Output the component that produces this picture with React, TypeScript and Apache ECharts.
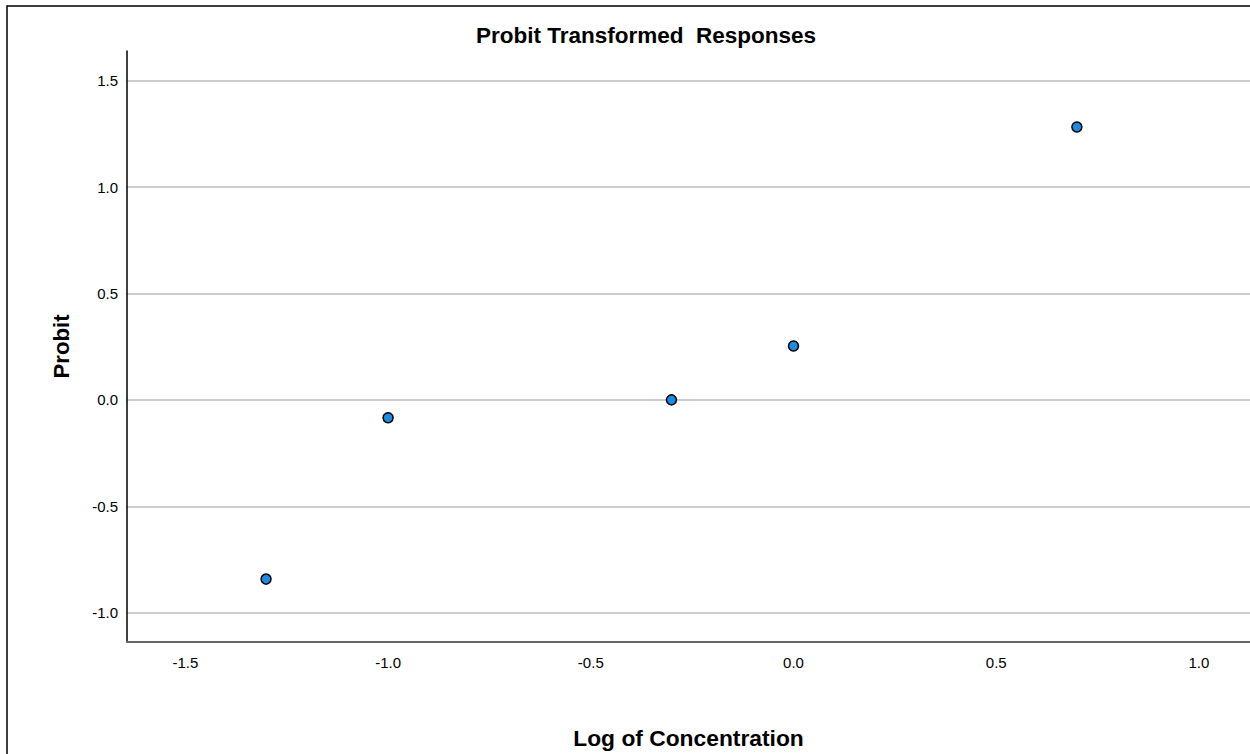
import React, { useEffect, useRef } from "react";
import * as echarts from "echarts";

const logConcentration = [-1.301, -1.0, -0.301, 0.0, 0.699];
const probitValues = [-0.842, -0.084, 0.0, 0.253, 1.282];

const titleText = "Probit Transformed  Responses";
const xName = "Log of Concentration";
const yName = "Probit";

export default function App() {
  const ref = useRef<HTMLDivElement>(null);
  useEffect(() => {
    if (!ref.current) return;
    const chart = echarts.init(ref.current, undefined, { renderer: "svg" });
    const font = "'Liberation Sans', Arial, sans-serif";
    const fmt = (v: number) => {
      const r = Math.round(v * 2) / 2;
      if (Math.abs(r - v) > 1e-6) return "";
      return r.toFixed(1);
    };
    chart.setOption({
      animation: false,
      backgroundColor: "#ffffff",
      title: {
        text: titleText,
        left: 476,
        top: 24,
        padding: 0,
        textStyle: { fontFamily: font, fontSize: 22.5, fontWeight: "bold", color: "#000" },
      },
      graphic: [
        {
          type: "rect",
          shape: { x: 7, y: 6, width: 1400, height: 900 },
          style: { fill: "none", stroke: "#000", lineWidth: 1.5 },
          silent: true,
        },
      ],
      grid: { left: 127, top: 51, right: 0, bottom: 109, containLabel: false },
      xAxis: {
        type: "value",
        min: -1.644,
        max: 1.126,
        splitNumber: 5,
        name: xName,
        nameLocation: "middle",
        nameGap: 84,
        nameTextStyle: { fontFamily: font, fontSize: 22.8, fontWeight: "bold", color: "#000" },
        axisLine: { show: true, onZero: false, lineStyle: { color: "#666", width: 2 } },
        axisTick: { show: false },
        splitLine: { show: false },
        axisLabel: {
          fontFamily: font,
          fontSize: 15,
          color: "#000",
          margin: 13,
          showMinLabel: false,
          showMaxLabel: false,
          formatter: fmt,
        },
      },
      yAxis: {
        type: "value",
        min: -1.1375,
        max: 1.639,
        splitNumber: 5,
        name: yName,
        nameLocation: "middle",
        nameGap: 55,
        nameTextStyle: { fontFamily: font, fontSize: 22.2, fontWeight: "bold", color: "#000" },
        axisLine: { show: true, onZero: false, lineStyle: { color: "#000", width: 1.5 } },
        axisTick: { show: false },
        splitLine: {
          show: true,
          showMinLine: false,
          showMaxLine: false,
          lineStyle: { color: "#bbbbbb", width: 1.5 },
        },
        axisLabel: {
          fontFamily: font,
          fontSize: 15,
          color: "#000",
          margin: 9,
          showMinLabel: false,
          showMaxLabel: false,
          formatter: fmt,
        },
      },
      series: [
        {
          type: "scatter",
          data: logConcentration.map((x, i) => [x, probitValues[i]]),
          symbol: "circle",
          symbolSize: 10,
          itemStyle: { color: "#1c8ce3", borderColor: "#000", borderWidth: 1.5, opacity: 1 },
        },
      ],
    });
    return () => chart.dispose();
  }, []);
  return (
    <div
      ref={ref}
      style={{ position: "fixed", left: 0, top: 0, width: 1250, height: 754, background: "#fff" }}
    />
  );
}
